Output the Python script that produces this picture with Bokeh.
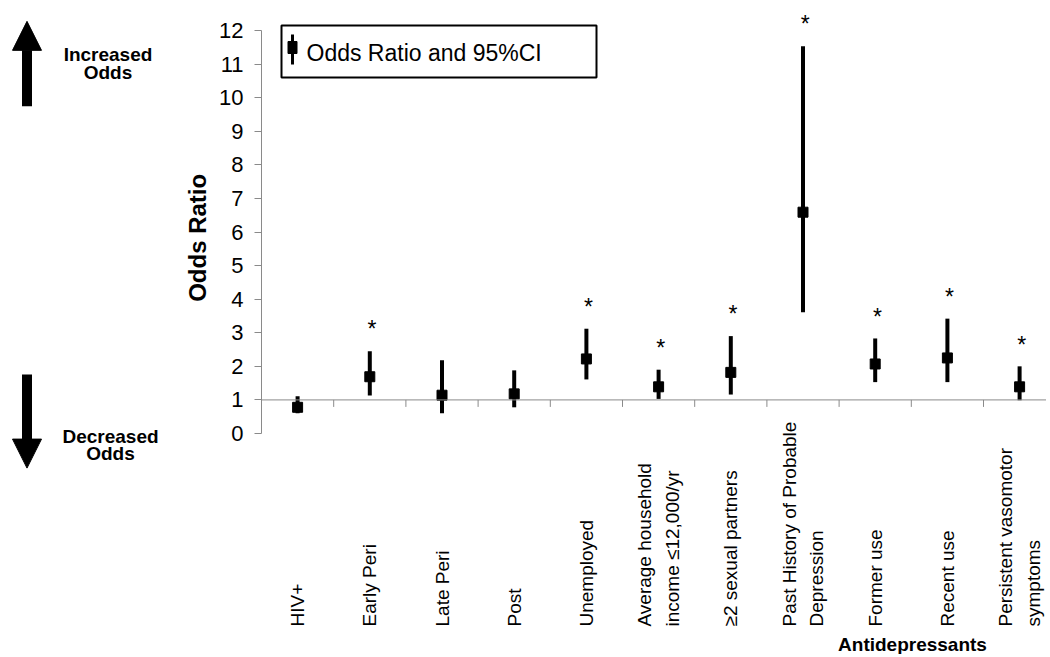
import numpy as np
from bokeh.plotting import figure
from bokeh.layouts import row
from bokeh.models import Range1d, FixedTicker, Span, Arrow, NormalHead, ColumnDataSource
from bokeh.core.properties import value
from bokeh.embed import file_html
from bokeh.resources import INLINE

# ---------------- data ----------------
categories = [
    "HIV+", "Early Peri", "Late Peri", "Post", "Unemployed",
    "Average household\nincome \u226412,000/yr", "\u22652 sexual partners",
    "Past History of Probable\nDepression", "Former use", "Recent use",
    "Persistent vasomotor\nsymptoms",
]
odds_ratio = [0.78, 1.69, 1.14, 1.18, 2.22, 1.39, 1.82, 6.59, 2.07, 2.25, 1.39]
ci_lower   = [0.60, 1.13, 0.60, 0.78, 1.61, 1.03, 1.16, 3.61, 1.53, 1.53, 0.99]
ci_upper   = [1.11, 2.45, 2.18, 1.88, 3.12, 1.90, 2.90, 11.53, 2.83, 3.42, 2.00]
significant = [False, True, False, False, True, True, True, True, True, True, True]
y_ticks = list(range(0, 13))

FONT = "Liberation Sans"
GRAY = "#8a8a8a"

# page offset of the figures in the screenshot
OFF = 1
LEFT_W = 212 - OFF
TOTAL_W = 1046
BOTTOM_PX = 655
H = BOTTOM_PX - OFF

# ---------------- geometry helpers (pixel -> data for the right panel) ----------------
PX_PER_X = 72.2
PX_PER_Y = 33.583
X0_PX = 262
Y0_PX = 434
def xd(px):
    return (px - X0_PX) / PX_PER_X
def yd(py):
    return (Y0_PX - py) / PX_PER_Y

n = len(categories)
xs = np.arange(n) + 0.5

# ---------------- right panel (main chart) ----------------
right_px = OFF + TOTAL_W
p = figure(width=TOTAL_W - LEFT_W, height=H, output_backend="svg", toolbar_location=None,
           x_range=Range1d(0, xd(right_px)), y_range=Range1d(yd(BOTTOM_PX), yd(10)),
           min_border_left=262 - 212, min_border_right=0, min_border_top=10 - OFF, min_border_bottom=0)
p.xaxis.visible = False
p.xgrid.visible = False
p.ygrid.visible = False
p.outline_line_color = None

yax = p.yaxis[0]
yax.bounds = (0, 12)
yax.ticker = FixedTicker(ticks=y_ticks)
yax.axis_line_color = GRAY
yax.major_tick_line_color = GRAY
yax.major_tick_out = 7
yax.major_tick_in = 0
yax.minor_tick_line_color = None
yax.major_label_text_font = FONT
yax.major_label_text_font_size = "22px"
yax.major_label_text_color = "black"
yax.major_label_standoff = 11

# reference line at OR = 1 with category ticks
p.add_layout(Span(location=1, dimension="width", line_color=GRAY, line_width=1))
bounds_x = np.arange(1, n)
p.segment(x0=bounds_x, x1=bounds_x, y0=[1] * len(bounds_x), y1=[1 - 7 / PX_PER_Y] * len(bounds_x),
          line_color=GRAY, line_width=1)

src = ColumnDataSource(dict(x=xs, orr=odds_ratio, lo=ci_lower, hi=ci_upper))
p.segment(x0="x", x1="x", y0="lo", y1="hi", source=src, line_color="black", line_width=4)
p.scatter(x="x", y="orr", source=src, marker="square", size=10, fill_color="black", line_color="black")

# significance stars
sx = [x + 0.03 for x, s in zip(xs, significant) if s]
sy = [h + 0.65 for h, s in zip(ci_upper, significant) if s]
p.text(x=sx, y=sy, text=["*"] * len(sx), text_align="center", text_baseline="alphabetic",
       text_font=value(FONT), text_font_size="23px", text_color="black")

# category labels (rotated)
p.text(x=xs, y=[yd(627)] * n, text=categories, angle=np.pi / 2,
       text_align="left", text_baseline="middle", text_line_height=1.3,
       text_font=value(FONT), text_font_size="19px", text_color="black")
p.text(x=[xd(913)], y=[yd(645)], text=["Antidepressants"], text_align="center",
       text_baseline="alphabetic", text_font=value(FONT), text_font_size="19px",
       text_font_style="bold", text_color="black")

# legend box (manual)
p.quad(left=[xd(282)], right=[xd(597)], top=[yd(26)], bottom=[yd(78)],
       fill_color="white", line_color="black", line_width=2)
p.segment(x0=[xd(293)], x1=[xd(293)], y0=[yd(35)], y1=[yd(65)], line_color="black", line_width=3)
p.rect(x=[xd(293)], y=[yd(48)], width=9 / PX_PER_X, height=12 / PX_PER_Y,
       fill_color="black", line_color="black")
p.text(x=[xd(307)], y=[yd(53)], text=["Odds Ratio and 95%CI"], text_align="left",
       text_baseline="middle", text_font=value(FONT), text_font_size="23px", text_color="black")

# ---------------- left panel (arrows, y label) ----------------
q = figure(width=LEFT_W, height=H, output_backend="svg", toolbar_location=None,
           x_range=Range1d(OFF, 212), y_range=Range1d(BOTTOM_PX, OFF),
           min_border=0, min_border_left=0, min_border_right=0, min_border_top=0, min_border_bottom=0)
q.axis.visible = False
q.grid.visible = False
q.outline_line_color = None

q.add_layout(Arrow(end=NormalHead(size=29, fill_color="black", line_color="black"),
                   x_start=27.5, y_start=99, x_end=27.5, y_end=13,
                   line_width=10, line_color="black"))
q.add_layout(Arrow(end=NormalHead(size=29, fill_color="black", line_color="black"),
                   x_start=27.5, y_start=371, x_end=27.5, y_end=466,
                   line_width=10, line_color="black"))

q.text(x=[108.5, 108.5, 111, 111], y=[46.5, 64.5, 433.5, 451.5],
       text=["Increased", "Odds", "Decreased", "Odds"],
       text_align="center", text_baseline="alphabetic", text_font=value(FONT),
       text_font_size="19px", text_font_style="bold", text_color="black")
q.text(x=[197.5], y=[232.5], text=["Odds Ratio"], angle=np.pi / 2,
       text_align="center", text_baseline="middle", text_font=value(FONT),
       text_font_size="24px", text_font_style="bold", text_color="black")

layout = row(q, p, spacing=0)
open("out.html", "w").write(file_html(layout, INLINE))
